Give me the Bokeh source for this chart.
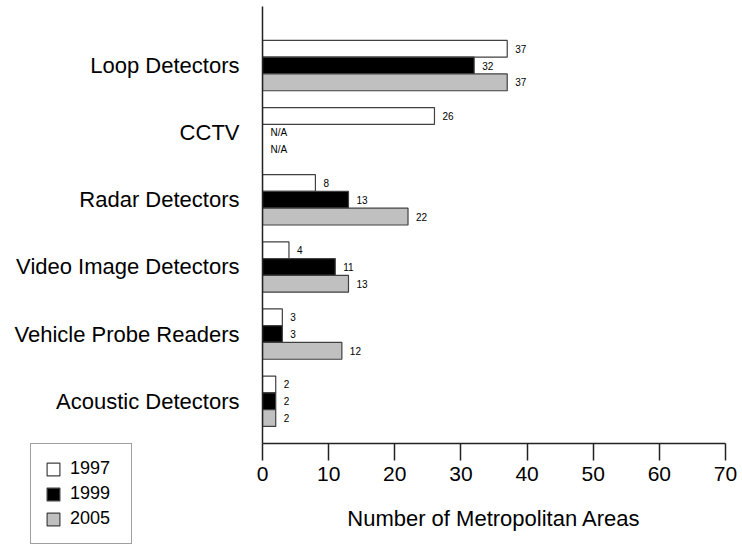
from bokeh.plotting import figure
from bokeh.layouts import row
from bokeh.models import Range1d, FixedTicker, Legend, LegendItem, ColumnDataSource
from bokeh.core.properties import value
from bokeh.embed import file_html
from bokeh.resources import INLINE

# ---- data ----
categories = ["Loop Detectors", "CCTV", "Radar Detectors", "Video Image Detectors",
              "Vehicle Probe Readers", "Acoustic Detectors"]
years = ["1997", "1999", "2005"]
v1997 = [37, 26, 8, 4, 3, 2]
v1999 = [32, None, 13, 11, 3, 2]
v2005 = [37, None, 22, 13, 12, 2]
x_ticks = [0, 10, 20, 30, 40, 50, 60, 70]

FONT = "Liberation Sans"
fills = ["#ffffff", "#000000", "#c0c0c0"]
offsets = [0.25, 0.0, -0.25]
bar_h = 0.25
EDGE = "#404040"
AXIS = "#222222"

n = len(categories)
centers = [n - 1 - i for i in range(n)]

W, H = 742, 544
LEFT_W = 254
frame_top, frame_bottom = 6, 443
y0, y1 = -0.63, 5.88
ppu = (frame_bottom - frame_top) / (y1 - y0)

# ---- main chart ----
p = figure(width=W - LEFT_W, height=H, output_backend="svg", toolbar_location=None,
           x_range=Range1d(0, 70), y_range=Range1d(y0, y1),
           min_border_left=8, min_border_right=17, min_border_top=frame_top,
           min_border_bottom=H - frame_bottom, frame_align=False)
p.outline_line_color = None
p.xgrid.grid_line_color = None
p.ygrid.grid_line_color = None
p.background_fill_color = "white"
p.border_fill_color = "white"

sources = []
for yr, vals, fill, off in zip(years, [v1997, v1999, v2005], fills, offsets):
    xs = [float("nan") if v is None else v for v in vals]
    ys = [c + off for c in centers]
    labels = ["N/A" if v is None else str(v) for v in vals]
    lx = [0 if v is None else v for v in vals]
    src = ColumnDataSource(dict(y=ys, right=xs, lx=lx, lab=labels))
    sources.append(src)
    p.hbar(y="y", left=0, right="right", height=bar_h, source=src,
           fill_color=fill, line_color=EDGE, line_width=1.2)
    p.text(x="lx", y="y", text="lab", source=src, x_offset=8,
           text_baseline="middle", text_align="left",
           text_font=value(FONT), text_font_size="10px", text_color="black")

xa = p.xaxis[0]
xa.ticker = FixedTicker(ticks=x_ticks)
xa.minor_tick_line_color = None
xa.major_tick_out = 17
xa.major_tick_in = 0
xa.major_tick_line_color = AXIS
xa.major_tick_line_width = 1.5
xa.axis_line_color = AXIS
xa.axis_line_width = 1.5
xa.major_label_text_font = FONT
xa.major_label_text_font_size = "21px"
xa.major_label_text_color = "black"
xa.major_label_standoff = 6
xa.axis_label = "Number of Metropolitan Areas"
xa.axis_label_text_font = FONT
xa.axis_label_text_font_size = "22px"
xa.axis_label_text_font_style = "normal"
xa.axis_label_text_color = "black"
xa.axis_label_standoff = 22

ya = p.yaxis[0]
ya.ticker = FixedTicker(ticks=[])
ya.major_tick_line_color = None
ya.minor_tick_line_color = None
ya.major_tick_out = 0
ya.major_tick_in = 0
ya.major_label_text_font_size = "0px"
ya.major_label_standoff = 0
ya.axis_line_color = AXIS
ya.axis_line_width = 1.5

# ---- left panel: category labels and legend (frame covers the whole panel) ----
ly0 = y0 - (H - frame_bottom) / ppu
ly1 = y1 + frame_top / ppu
lp = figure(width=LEFT_W, height=H, output_backend="svg", toolbar_location=None,
            x_range=Range1d(0, LEFT_W), y_range=Range1d(ly0, ly1),
            x_axis_location=None, y_axis_location=None,
            min_border_left=0, min_border_right=0, min_border_top=0,
            min_border_bottom=0, frame_align=False)
lp.outline_line_color = None
lp.xgrid.grid_line_color = None
lp.ygrid.grid_line_color = None
lp.background_fill_color = "white"
lp.border_fill_color = "white"

cat_src = ColumnDataSource(dict(y=centers, name=categories))
lp.text(x=LEFT_W - 15, y="y", text="name", source=cat_src,
        text_align="right", text_baseline="middle",
        text_font=value(FONT), text_font_size="22px", text_color="black")

items = []
for yr, fill, src in zip(years, fills, sources):
    r = lp.hbar(y="y", left=0, right="right", height=bar_h, source=src,
                fill_color=fill, line_color=EDGE, line_width=1.2, visible=False)
    items.append(LegendItem(label=yr, renderers=[r]))

legend = Legend(items=items, location=(30, 0),
                glyph_width=16, glyph_height=16, label_height=16, label_width=47,
                spacing=4, padding=14, label_standoff=9, margin=0,
                label_text_font=FONT, label_text_font_size="18px",
                label_text_color="black",
                border_line_color=EDGE, border_line_width=1.2,
                background_fill_color="white", background_fill_alpha=1.0,
                inactive_fill_alpha=0.0)
lp.add_layout(legend, "center")

layout = row(lp, p)
open("out.html", "w").write(file_html(layout, INLINE))
